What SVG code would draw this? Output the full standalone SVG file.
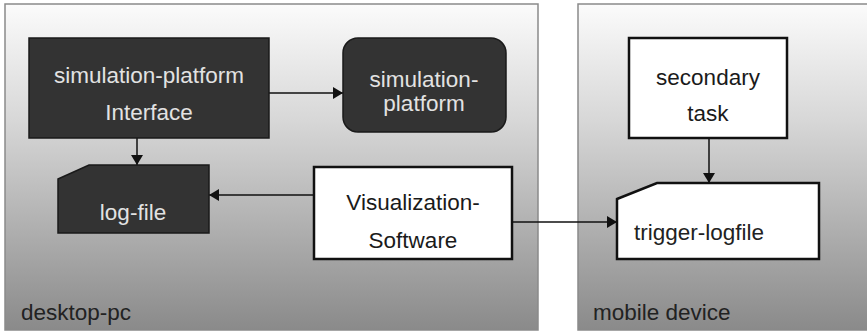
<svg xmlns="http://www.w3.org/2000/svg" width="867" height="331" viewBox="0 0 867 331">
  <defs>
    <linearGradient id="zoneFill" x1="0" y1="0" x2="0" y2="1">
      <stop offset="0" stop-color="#fbfbfb"/>
      <stop offset="0.35" stop-color="#d8d8d8"/>
      <stop offset="1" stop-color="#8a8a8a"/>
    </linearGradient>
    <marker id="arrow" viewBox="0 0 10 12" refX="10" refY="6" markerWidth="11" markerHeight="12" markerUnits="userSpaceOnUse" orient="auto">
      <path d="M0,0 L10,6 L0,12 z" fill="#111"/>
    </marker>
  </defs>
  <style>
    .zone { fill: url(#zoneFill); stroke: #8a8a8a; stroke-width: 1.5; }
    .dark { fill: #333333; stroke: #1a1a1a; stroke-width: 1.5; }
    .light { fill: #ffffff; stroke: #111111; stroke-width: 2.5; }
    .t { font-family: "Liberation Sans", Arial, sans-serif; font-size: 22.5px; }
    .tl { fill: #e2e2e2; text-anchor: middle; }
    .td { fill: #1a1a1a; text-anchor: middle; }
    .lbl { fill: #222222; }
    .edge { fill: none; stroke: #111; stroke-width: 1.5; marker-end: url(#arrow); }
  </style>

  <!-- containers -->
  <g id="desktop-pc">
    <rect class="zone" x="5" y="4" width="533" height="326"/>
    <text class="t lbl" x="21" y="320">desktop-pc</text>
  </g>
  <g id="mobile-device">
    <rect class="zone" x="578" y="4" width="295" height="326"/>
    <text class="t lbl" x="593" y="320">mobile device</text>
  </g>

  <!-- connectors -->
  <g id="connectors">
    <path class="edge" d="M269,93 H343"/>
    <path class="edge" d="M137,138 V165"/>
    <path class="edge" d="M314,195 H209"/>
    <path class="edge" d="M512,222 H617"/>
    <path class="edge" d="M709,138 V183"/>
  </g>

  <!-- nodes -->
  <g id="sim-interface">
    <rect class="dark" x="29" y="38" width="240" height="100"/>
    <text class="t tl" x="149" y="83">simulation-platform</text>
    <text class="t tl" x="149" y="120">Interface</text>
  </g>
  <g id="sim-platform">
    <rect class="dark" x="343" y="38" width="163" height="94" rx="15" ry="15"/>
    <text class="t tl" x="424" y="87">simulation-</text>
    <text class="t tl" x="424" y="111">platform</text>
  </g>
  <g id="log-file">
    <path class="dark" d="M58,179 L89,165 H209 V233 H58 Z"/>
    <text class="t tl" x="133" y="220">log-file</text>
  </g>
  <g id="visualization">
    <rect class="light" x="314" y="167" width="198" height="92"/>
    <text class="t td" x="413" y="210">Visualization-</text>
    <text class="t td" x="413" y="248">Software</text>
  </g>
  <g id="secondary-task">
    <rect class="light" x="629" y="38" width="158" height="100"/>
    <text class="t td" x="708" y="85">secondary</text>
    <text class="t td" x="708" y="121">task</text>
  </g>
  <g id="trigger-logfile">
    <path class="light" d="M617,199 L657,183 H819 V259 H617 Z"/>
    <text class="t lbl" x="634" y="240">trigger-logfile</text>
  </g>
</svg>
